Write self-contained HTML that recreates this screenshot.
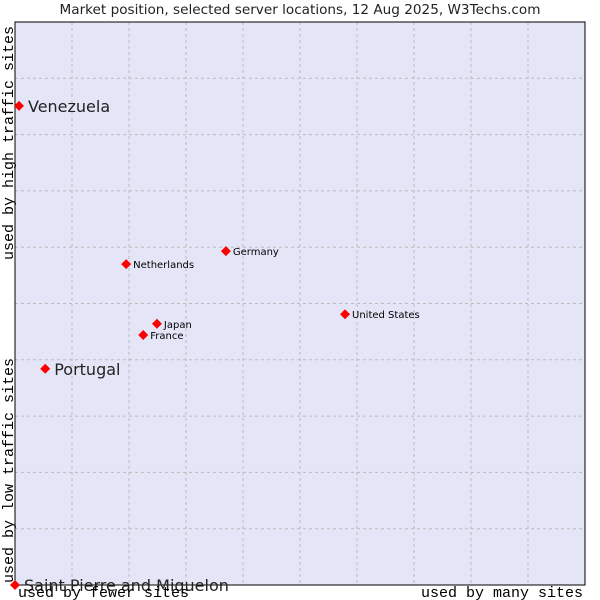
<!DOCTYPE html>
<html><head><meta charset="utf-8"><style>
body{margin:0;background:#fff;width:600px;height:600px;overflow:hidden}
svg{display:block}
</style></head><body>
<svg width="600" height="600" id="chart">
<text x="300" y="14" text-anchor="middle" font-family="DejaVu Sans, sans-serif" font-size="13.6" fill="#222">Market position, selected server locations, 12 Aug 2025, W3Techs.com</text>
<rect x="15" y="22" width="570" height="563" fill="#e4e6f8"/>
<g id="grid"></g>
<line x1="15" y1="22" x2="15" y2="585" stroke="#000"/>
<line x1="15" y1="585" x2="585" y2="585" stroke="#000"/>
<rect x="15" y="22" width="570" height="563" fill="none" stroke="#000" stroke-width="1"/>
<g id="points"></g>
<g font-family="Liberation Mono, DejaVu Sans Mono, monospace" font-size="15" fill="#000">
<text x="18" y="597">used by fewer sites</text>
<text x="583" y="597" text-anchor="end">used by many sites</text>
<text transform="translate(13,583) rotate(-90)">used by low traffic sites</text>
<text transform="translate(13,260) rotate(-90)">used by high traffic sites</text>
</g>
</svg>
<script>
const names=["Venezuela","Portugal","Saint Pierre and Miquelon","Netherlands","Germany","Japan","France","United States"];
const xs=[0.7,5.3,0,19.5,37.0,24.9,22.5,57.9];
const ys=[85.1,38.4,0,57.0,59.3,46.4,44.4,48.1];
const big=[true,true,true,false,false,false,false,false];
const L=15,R=585,T=22,B=585;
const sx=v=>L+v/100*(R-L), sy=v=>B-v/100*(B-T);
const ns="http://www.w3.org/2000/svg";
const grid=document.getElementById('grid');
for(let i=1;i<10;i++){
 const v=document.createElementNS(ns,'line');
 
 
 const x=sx(i*10);
 v.setAttribute('x1',x);v.setAttribute('x2',x);v.setAttribute('y1',T);v.setAttribute('y2',B);
 v.setAttribute('stroke','#bbb');v.setAttribute('stroke-dasharray','3,3');grid.appendChild(v);
 const h=document.createElementNS(ns,'line');
 
 
 const y=sy(i*10);
 h.setAttribute('y1',y);h.setAttribute('y2',y);h.setAttribute('x1',L);h.setAttribute('x2',R);
 h.setAttribute('stroke','#bbb');h.setAttribute('stroke-dasharray','3,3');grid.appendChild(h);
}
const pts=document.getElementById('points');
names.forEach((n,i)=>{
 const x=sx(xs[i]),y=sy(ys[i]);
 const d=document.createElementNS(ns,'polygon');
 
 
 d.setAttribute('points',`${x},${y-5} ${x+5},${y} ${x},${y+5} ${x-5},${y}`);
 d.setAttribute('fill','#f00');pts.appendChild(d);
 const t=document.createElementNS(ns,'text');
 
 
 t.setAttribute('x',x+(big[i]?9:7));t.setAttribute('y',y+(big[i]?6:4));
 t.setAttribute('font-family','DejaVu Sans, sans-serif');
 t.setAttribute('font-size',big[i]?'16':'10');
 t.setAttribute('fill',big[i]?'#222':'#000');
 t.textContent=n;pts.appendChild(t);
});
</script>
</body></html>
